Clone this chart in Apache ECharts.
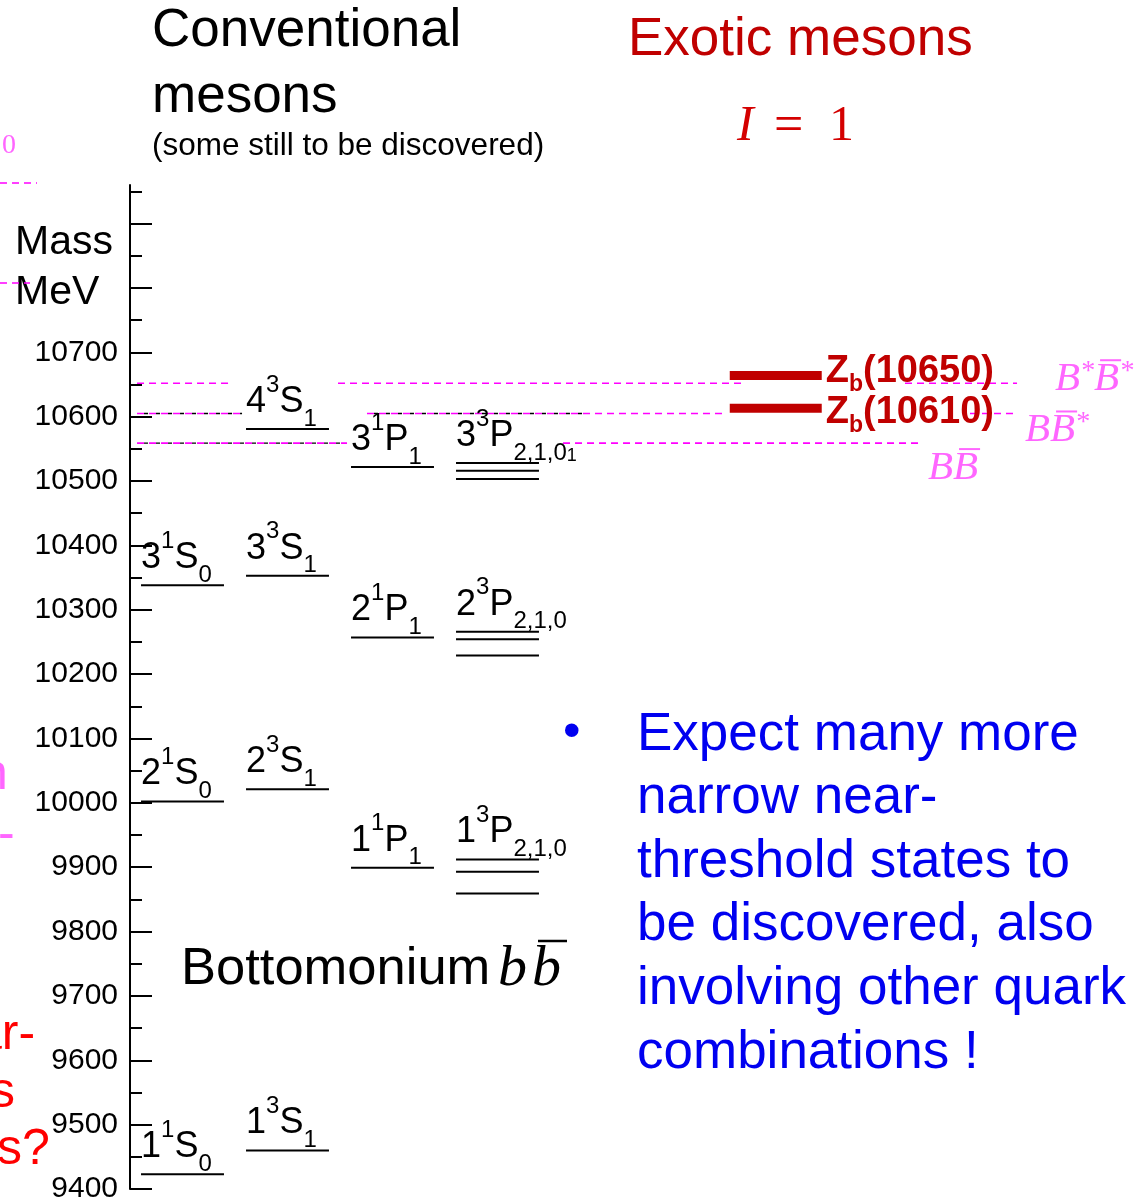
<!DOCTYPE html>
<html><head><meta charset="utf-8">
<script src="https://cdn.jsdelivr.net/npm/echarts@6/dist/echarts.min.js"></script>
<style>html,body{margin:0;padding:0;background:#fff}#c{width:1134px;height:1204px}</style>
</head><body><div id="c"></div>
<script>
// ---------------- data (masses in MeV) ----------------
const radialS0 = ['1', '2', '3'];
const massS0 = [9423, 10002, 10338];            // n 1S0
const radialS1 = ['1', '2', '3', '4'];
const massS1 = [9460, 10021, 10353, 10581];     // n 3S1
const radialP = ['1', '2', '3'];
const massP1 = [9899, 10257, 10522];            // n 1P1
const massPJ2 = [9912, 10266, 10528];           // n 3P2
const massPJ1 = [9893, 10254, 10516];           // n 3P1
const massPJ0 = [9859, 10229, 10503];           // n 3P0
const thresholdNames = ['B*B\u0304*', 'BB\u0304*', 'BB\u0304'];
const thresholdMasses = [10652, 10605, 10559];
const exoticNames = ['10650', '10610'];
const exoticMasses = [10664, 10613];
const yTickLabels = [9400, 9500, 9600, 9700, 9800, 9900, 10000, 10100, 10200, 10300, 10400, 10500, 10600, 10700];
const yMajorTicks = [9400, 9500, 9600, 9700, 9800, 9900, 10000, 10100, 10200, 10300, 10400, 10500, 10600, 10700, 10800, 10900];
const yMinorTicks = [9450, 9550, 9650, 9750, 9850, 9950, 10050, 10150, 10250, 10350, 10450, 10550, 10650, 10750, 10850, 10950];
const bulletLines = ['Expect many more', 'narrow near-', 'threshold states to', 'be discovered, also', 'involving other quark', 'combinations !'];

// ---------------- layout ----------------
const Y_MIN = 9400, Y_MAX = 10960;
const X_MAX = 9.562;                 // column units (1 unit = column pitch)
const COL_HALF = 0.395, ZB_HALF = 0.438, COL_ZB = 5.65;
const SANS = '"Liberation Sans", Arial, sans-serif';
const SERIF = '"Liberation Serif", "Times New Roman", serif';
const PINK = '#ff66ff', MAG = '#ff00ff', DRED = '#c00000';
const thrSegMag = [[[0.067, 0.971], [1.981, 5.838], [7.381, 8.448]], [[0.067, 1.067], [2.257, 5.638], [8.0, 8.429]], [[0.067, 2.067], [4.124, 7.524]]];
const thrSegBlack = [[], [[0.067, 1.067], [2.257, 4.381]], [[0.067, 2.067]]];
const thrLabelX = [8.81, 8.524, 7.6];
const thrLabelDy = [-4, 17, 25];
const exoticLabelDy = [-4, 4];

const mctx = document.createElement('canvas').getContext('2d');
function tw(text, font) { mctx.font = font; return mctx.measureText(text).width; }

const levels = [];
massS0.forEach((m, i) => levels.push({ col: 0, mass: m, label: `{m|${radialS0[i]}}{sup|1}{m|S}{sub|0}` }));
massS1.forEach((m, i) => levels.push({ col: 1, mass: m, label: `{m|${radialS1[i]}}{sup|3}{m|S}{sub|1}` }));
massP1.forEach((m, i) => levels.push({ col: 2, mass: m, label: `{m|${radialP[i]}}{sup|1}{m|P}{sub|1}` }));
massPJ2.forEach((m, i) => levels.push({ col: 3, mass: m, label: `{m|${radialP[i]}}{sup|3}{m|P}{sub|2,1,0}` + (i === 2 ? '{tiny|1}' : '') }));
massPJ1.forEach(m => levels.push({ col: 3, mass: m, label: '' }));
massPJ0.forEach(m => levels.push({ col: 3, mass: m, label: '' }));

const levelRich = {
  m: { fontSize: 36, fontFamily: SANS, fill: '#000', lineHeight: 58, verticalAlign: 'middle' },
  sup: { fontSize: 24, fontFamily: SANS, fill: '#000', lineHeight: 22, verticalAlign: 'top' },
  sub: { fontSize: 24, fontFamily: SANS, fill: '#000', lineHeight: 28, verticalAlign: 'bottom' },
  tiny: { fontSize: 18, fontFamily: SANS, fill: '#000', lineHeight: 22, verticalAlign: 'bottom' }
};

function renderLevel(params, api) {
  const lv = levels[params.dataIndex];
  const c = api.coord([api.value(0), api.value(1)]);
  const half = api.size([1, 0])[0] * COL_HALF;
  const children = [{
    type: 'line', shape: { x1: c[0] - half, y1: c[1], x2: c[0] + half, y2: c[1] },
    style: { stroke: '#000', lineWidth: 2 }
  }];
  if (lv.label) {
    children.push({
      type: 'text',
      style: { x: c[0] - half, y: c[1] + 2, text: lv.label, rich: levelRich, align: 'left', verticalAlign: 'bottom', fontSize: 36, fontFamily: SANS, fill: '#000' }
    });
  }
  return { type: 'group', children };
}

function renderThreshold(params, api) {
  const i = params.dataIndex;
  const mass = api.value(1);
  const y = api.coord([0, mass])[1];
  const children = [];
  thrSegMag[i].forEach(s => {
    const a = api.coord([s[0], mass]), b = api.coord([s[1], mass]);
    children.push({ type: 'line', shape: { x1: a[0], y1: y, x2: b[0], y2: y }, style: { stroke: MAG, lineWidth: 1.6, lineDash: [7, 5] } });
  });
  thrSegBlack[i].forEach(s => {
    const a = api.coord([s[0], mass]), b = api.coord([s[1], mass]);
    children.push({ type: 'line', shape: { x1: a[0], y1: y, x2: b[0], y2: y }, style: { stroke: '#000', lineWidth: 1.4, lineDash: [4, 8], lineDashOffset: -7 } });
  });
  const bx = api.coord([thrLabelX[i], mass])[0];
  const by = y + thrLabelDy[i];
  const fB = 'italic 41px ' + SERIF, fS = 'italic 28px ' + SERIF;
  const name = thresholdNames[i];
  let rich = '', xoff = 0;
  for (let k = 0; k < name.length; k++) {
    const ch = name[k];
    if (ch === 'B') {
      const w = tw('B', fB);
      if (name[k + 1] === '\u0304') {
        children.push({ type: 'line', shape: { x1: bx + xoff + 6, y1: by - 19, x2: bx + xoff + w + 2, y2: by - 19 }, style: { stroke: PINK, lineWidth: 2 } });
      }
      rich += '{b|B}'; xoff += w;
    } else if (ch === '*') {
      rich += '{s|*}'; xoff += tw('*', fS);
    }
  }
  children.push({
    type: 'text',
    style: {
      x: bx, y: by, text: rich, align: 'left', verticalAlign: 'middle', fontSize: 41, fontFamily: SERIF, fill: PINK,
      rich: {
        b: { fontSize: 41, fontFamily: SERIF, fontStyle: 'italic', fill: PINK, lineHeight: 44, verticalAlign: 'middle' },
        s: { fontSize: 28, fontFamily: SERIF, fontStyle: 'italic', fill: PINK, lineHeight: 28, verticalAlign: 'top' }
      }
    }
  });
  return { type: 'group', children };
}

function renderExotic(params, api) {
  const i = params.dataIndex;
  const c = api.coord([api.value(0), api.value(1)]);
  const half = api.size([1, 0])[0] * ZB_HALF;
  return {
    type: 'group', children: [
      { type: 'line', shape: { x1: c[0] - half, y1: c[1], x2: c[0] + half, y2: c[1] }, style: { stroke: DRED, lineWidth: 9 } },
      {
        type: 'text', style: {
          x: c[0] + half + 4, y: c[1] + exoticLabelDy[i], text: `{z|Z}{zs|b}{z|(${exoticNames[i]})}`, align: 'left', verticalAlign: 'middle',
          fontSize: 38, fontFamily: SANS, fontWeight: 'bold', fill: DRED,
          rich: {
            z: { fontSize: 38, fontFamily: SANS, fontWeight: 'bold', fill: DRED, lineHeight: 50, verticalAlign: 'middle' },
            zs: { fontSize: 23, fontFamily: SANS, fontWeight: 'bold', fill: DRED, lineHeight: 22, verticalAlign: 'bottom' }
          }
        }
      }
    ]
  };
}

// ---------------- decorative texts ----------------
const graphics = [];
function addText(x, y, text, font, fill, extra) {
  graphics.push({ type: 'text', x, y, style: Object.assign({ text, font, fill, verticalAlign: 'middle', align: 'left' }, extra || {}) });
}
addText(152, 31, 'Conventional', '53px ' + SANS, '#000');
addText(152, 97, 'mesons', '53px ' + SANS, '#000');
addText(152, 146, '(some still to be discovered)', '31.5px ' + SANS, '#000');
addText(628, 40, 'Exotic mesons', '53px ' + SANS, DRED);
addText(737, 127, 'I', 'italic 50px ' + SERIF, '#d40000');
addText(774, 127, '=', '52px ' + SERIF, '#d40000');
addText(829, 127, '1', '50px ' + SERIF, '#d40000');
addText(15, 243, 'Mass', '41px ' + SANS, '#000');
addText(15, 293, 'MeV', '41px ' + SANS, '#000');
// Bottomonium b b-bar
const fBot = '52.5px ' + SANS, fb = 'italic 58px ' + SERIF;
addText(181, 970, 'Bottomonium', fBot, '#000');
const bStart = 498;
addText(bStart, 970, 'b', fb, '#000');
const b2 = bStart + tw('b', fb) + 5;
addText(b2, 970, 'b', fb, '#000');
graphics.push({ type: 'line', shape: { x1: b2 + 6, y1: 941, x2: b2 + tw('b', fb) + 6, y2: 941 }, style: { stroke: '#000', lineWidth: 2.5 } });
// bullet text
addText(563, 733, '\u2022', '50px ' + SANS, '#0000f0');
graphics.push({ type: 'text', x: 637, y: 735 - 31.8, style: { text: bulletLines.join('\n'), font: '53px ' + SANS, fill: '#0000f0', lineHeight: 63.6, verticalAlign: 'top', align: 'left' } });
// cut-off fragments from neighbouring slide content
addText(2, 146, '0', '28px ' + SERIF, PINK);
addText(-14, 242, 'o', '30px ' + SERIF, PINK);
addText(-20, 775, 'n', '50px ' + SANS, PINK);
addText(-2, 835, '-', '50px ' + SANS, PINK);
addText(-26, 1035, 'ar-', '50px ' + SANS, '#ff0000');
addText(-10, 1093, 's', '50px ' + SANS, '#ff0000');
addText(-3, 1150, 's?', '50px ' + SANS, '#ff0000');
graphics.push({ type: 'line', shape: { x1: 0, y1: 183, x2: 37, y2: 183 }, style: { stroke: MAG, lineWidth: 1.6, lineDash: [7, 5] } });
graphics.push({ type: 'line', shape: { x1: 0, y1: 283, x2: 30, y2: 283 }, style: { stroke: MAG, lineWidth: 1.6, lineDash: [7, 5] } });

const chart = echarts.init(document.getElementById('c'), null, { renderer: 'canvas' });
chart.setOption({
  animation: false,
  backgroundColor: '#fff',
  grid: { left: 130, right: 0, top: 185, bottom: 14, containLabel: false },
  xAxis: { type: 'value', min: 0, max: X_MAX, show: false, splitLine: { show: false } },
  yAxis: [
    {
      type: 'value', min: Y_MIN, max: Y_MAX, position: 'left',
      axisLine: { show: true, onZero: false, lineStyle: { color: '#000', width: 2 } },
      axisTick: { show: true, inside: true, length: 22, customValues: yMajorTicks, lineStyle: { color: '#000', width: 2 } },
      axisLabel: { show: true, customValues: yTickLabels, formatter: v => String(v), fontSize: 30, fontFamily: SANS, color: '#000', margin: 12 },
      splitLine: { show: false }
    },
    {
      type: 'value', min: Y_MIN, max: Y_MAX, position: 'left', offset: 0,
      axisLine: { show: false, onZero: false },
      axisTick: { show: true, inside: true, length: 12, customValues: yMinorTicks, lineStyle: { color: '#000', width: 2 } },
      axisLabel: { show: false },
      splitLine: { show: false }
    }
  ],
  series: [
    { type: 'custom', name: 'thresholds', renderItem: renderThreshold, data: thresholdMasses.map(m => [0, m]), clip: false, z: 1 },
    { type: 'custom', name: 'levels', renderItem: renderLevel, data: levels.map(l => [l.col + 0.5, l.mass]), clip: false, z: 2 },
    { type: 'custom', name: 'exotic', renderItem: renderExotic, data: exoticMasses.map(m => [COL_ZB + 0.5, m]), clip: false, z: 3 }
  ],
  graphic: graphics
});
</script>
</body></html>
